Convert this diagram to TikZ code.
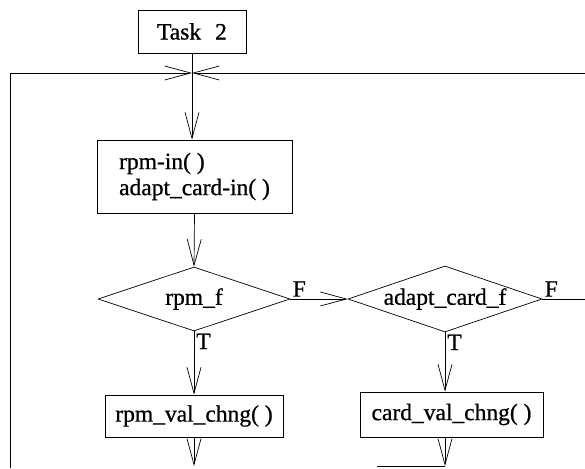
\documentclass[tikz,border=0pt]{standalone}
\usepackage{fontspec}
\setmainfont{Liberation Serif}[FakeBold=0.8]
\usetikzlibrary{shapes.geometric,arrows.meta}

\begin{document}
\begin{tikzpicture}[x=1pt,y=-1pt,line width=0.7pt,
  font=\fontsize{23.5}{26}\selectfont,
  box/.style={draw,rectangle,inner sep=0pt},
  dec/.style={draw,diamond,aspect=3,inner sep=0pt},
  flow/.style={-{Straight Barb[length=26pt,width=14pt]}},
  lab/.style={inner sep=2pt}]
\useasboundingbox (0,0) rectangle (585,468);

\node[box,minimum width=108pt,minimum height=43pt] (task) at (192,31.5) {Task\hspace{0.6em}2};
\node[box,minimum width=195pt,minimum height=73pt,align=left] (readin) at (194.5,176.5) {rpm-in( )\\adapt\_card-in( )};
\node[dec,minimum width=192pt,minimum height=64pt] (rpmf) at (194,299) {rpm\_f};
\node[dec,minimum width=194pt,minimum height=66pt] (cardf) at (445,299) {adapt\_card\_f};
\node[box,minimum width=178pt,minimum height=42pt] (rpmchng) at (194,416) {rpm\_val\_chng( )};
\node[box,minimum width=183pt,minimum height=45pt] (cardchng) at (451.5,414.5) {card\_val\_chng( )};

\coordinate (junc) at (192,73);
\coordinate (loopL) at (10,73);
\coordinate (loopB) at (10,468);
\coordinate (loopR) at (585,73);
\coordinate (outR) at (585,299);
\coordinate (endA) at (194,466);
\coordinate (endB) at (445,466);
\coordinate (joinB) at (377,466);

\draw (task) -- (junc);
\draw [flow] (loopB) -- (loopL) -- (junc);
\draw [flow] (loopR) -- (junc);
\draw [flow] (junc) -- (junc |- readin.north);
\draw [flow] (readin.south) -- (rpmf.north);
\draw [flow] (rpmf.east) -- node [pos=0,above right,lab] {F} (cardf.west);
\draw (cardf.east) -- node [pos=0,above right,lab] {F} (outR);
\draw [flow] (rpmf.south) -- node [pos=0,below right,lab] {T} (rpmchng.north);
\draw [flow] (cardf.south) -- node [pos=0,below right,lab] {T} (cardf.south |- cardchng.north);
\draw [flow] (rpmchng.south) -- (endA);
\draw [flow] (endB |- cardchng.south) -- (endB);
\draw (joinB) -- (endB);

\end{tikzpicture}
\end{document}
